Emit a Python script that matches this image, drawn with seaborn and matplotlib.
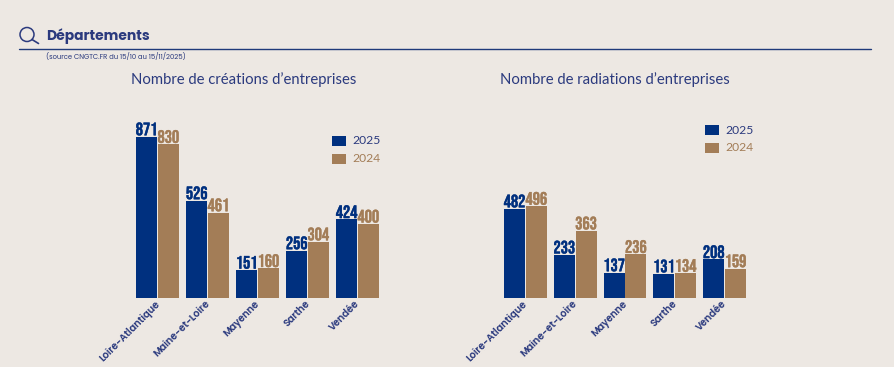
import matplotlib
matplotlib.use("Agg")
import matplotlib.pyplot as plt
import matplotlib.patheffects as pe
import seaborn as sns
import pandas as pd
from matplotlib import font_manager as fm
from matplotlib.lines import Line2D
from matplotlib.patches import Circle, Rectangle
from matplotlib.transforms import ScaledTranslation

departements = ["Loire-Atlantique", "Maine-et-Loire", "Mayenne", "Sarthe", "Vendée"]
creations_2025 = [871, 526, 151, 256, 424]
creations_2024 = [830, 461, 160, 304, 400]
radiations_2025 = [482, 233, 137, 131, 208]
radiations_2024 = [496, 363, 236, 134, 159]
years = ["2025", "2024"]

BG = "#EDE8E3"
BLUE = "#00307F"
BROWN = "#A37D57"
INK = "#2B3A7E"
W, H = 895, 367
YMAX = 1069

names = {f.name for f in fm.fontManager.ttflist}


def pick(*options):
    for o in options:
        if o in names:
            return o
    return "DejaVu Sans"


NUM = pick("Bebas Neue", "Oswald", "Barlow Condensed", "Roboto")
GEO = pick("Poppins", "Lato")
BODY = pick("Lato", "Noto Sans")

sns.set_theme(style="white")
plt.rcParams["font.family"] = [GEO, "DejaVu Sans"]

fig = plt.figure(figsize=(W / 100, H / 100), dpi=100, facecolor=BG)


def px_axes(x0, x1, ytop, ybot):
    return fig.add_axes([x0 / W, 1 - ybot / H, (x1 - x0) / W, (ybot - ytop) / H])


def panel(ax, v25, v24, title, title_x, legend_xy):
    df = pd.DataFrame({
        "dep": departements * 2,
        "year": [years[0]] * 5 + [years[1]] * 5,
        "value": list(v25) + list(v24),
    })
    sns.barplot(data=df, x="dep", y="value", hue="year", hue_order=years,
                palette=[BLUE, BROWN], width=0.87, gap=0.03, saturation=1,
                linewidth=0, legend=False, ax=ax)
    ax.set_facecolor("none")
    ax.set_xlim(-0.5, 4.5)
    ax.set_ylim(0, YMAX)
    ax.set_xlabel("")
    ax.set_ylabel("")
    ax.set_yticks([])
    for s in ax.spines.values():
        s.set_visible(False)
    ax.tick_params(axis="x", length=0, pad=0.5)
    ax.set_xticks(range(5))
    ax.set_xticklabels(departements, rotation=45, ha="right", rotation_mode="anchor",
                       fontsize=7.0, fontweight="semibold", color=INK, family=GEO)
    shift = ScaledTranslation(-3 / 100, 0, fig.dpi_scale_trans)
    for lab in ax.get_xticklabels():
        lab.set_transform(lab.get_transform() + shift)
    for cont, col in zip(ax.containers, [BLUE, BROWN]):
        labels = ax.bar_label(cont, padding=1, color=col, fontsize=13, family=NUM)
        for t in labels:
            t.set_path_effects([pe.withStroke(linewidth=0.25, foreground=col)])
    fig.text(title_x / W, 1 - 80 / H, title, fontsize=10.75, color=INK, va="center",
             family=BODY)
    lx, ly = legend_xy
    for i, (fill, text, c) in enumerate(zip([BLUE, BROWN], years, [INK, BROWN])):
        y = ly + i * 17.5
        fig.add_artist(Rectangle((lx / W, 1 - (y + 5) / H), 14 / W, 10 / H,
                                 transform=fig.transFigure, color=fill, lw=0))
        fig.text((lx + 20) / W, 1 - y / H, text, fontsize=8.7, color=c, va="center",
                 family=BODY)


ax1 = px_axes(132.5, 382.5, 100, 298)
panel(ax1, creations_2025, creations_2024, "Nombre de créations d’entreprises", 131, (332, 141))
ax2 = px_axes(500.5, 749.5, 100, 298)
panel(ax2, radiations_2025, radiations_2024, "Nombre de radiations d’entreprises", 500, (705, 130))

# header
fig.add_artist(Line2D([19 / W, 871 / W], [1 - 48.5 / H] * 2, color="#1F3A7A", lw=1.0))
fig.text(46 / W, 1 - 36 / H, "Départements", fontsize=10, fontweight="bold", color=INK,
         va="center", family=GEO)
fig.text(46 / W, 1 - 56.5 / H, "(source CNGTC.FR du 15/10 au 15/11/2025)", fontsize=4.95,
         color=INK, va="center", family=GEO)
fig.add_artist(Circle((27, H - 34.5), 7, transform=None, fill=False, ec=INK, lw=1.1))
fig.add_artist(Line2D([32 / W, 38.5 / W], [1 - 39.5 / H, 1 - 43.5 / H], color=INK, lw=1.2))

fig.savefig("out.png", dpi=100, facecolor=BG)
